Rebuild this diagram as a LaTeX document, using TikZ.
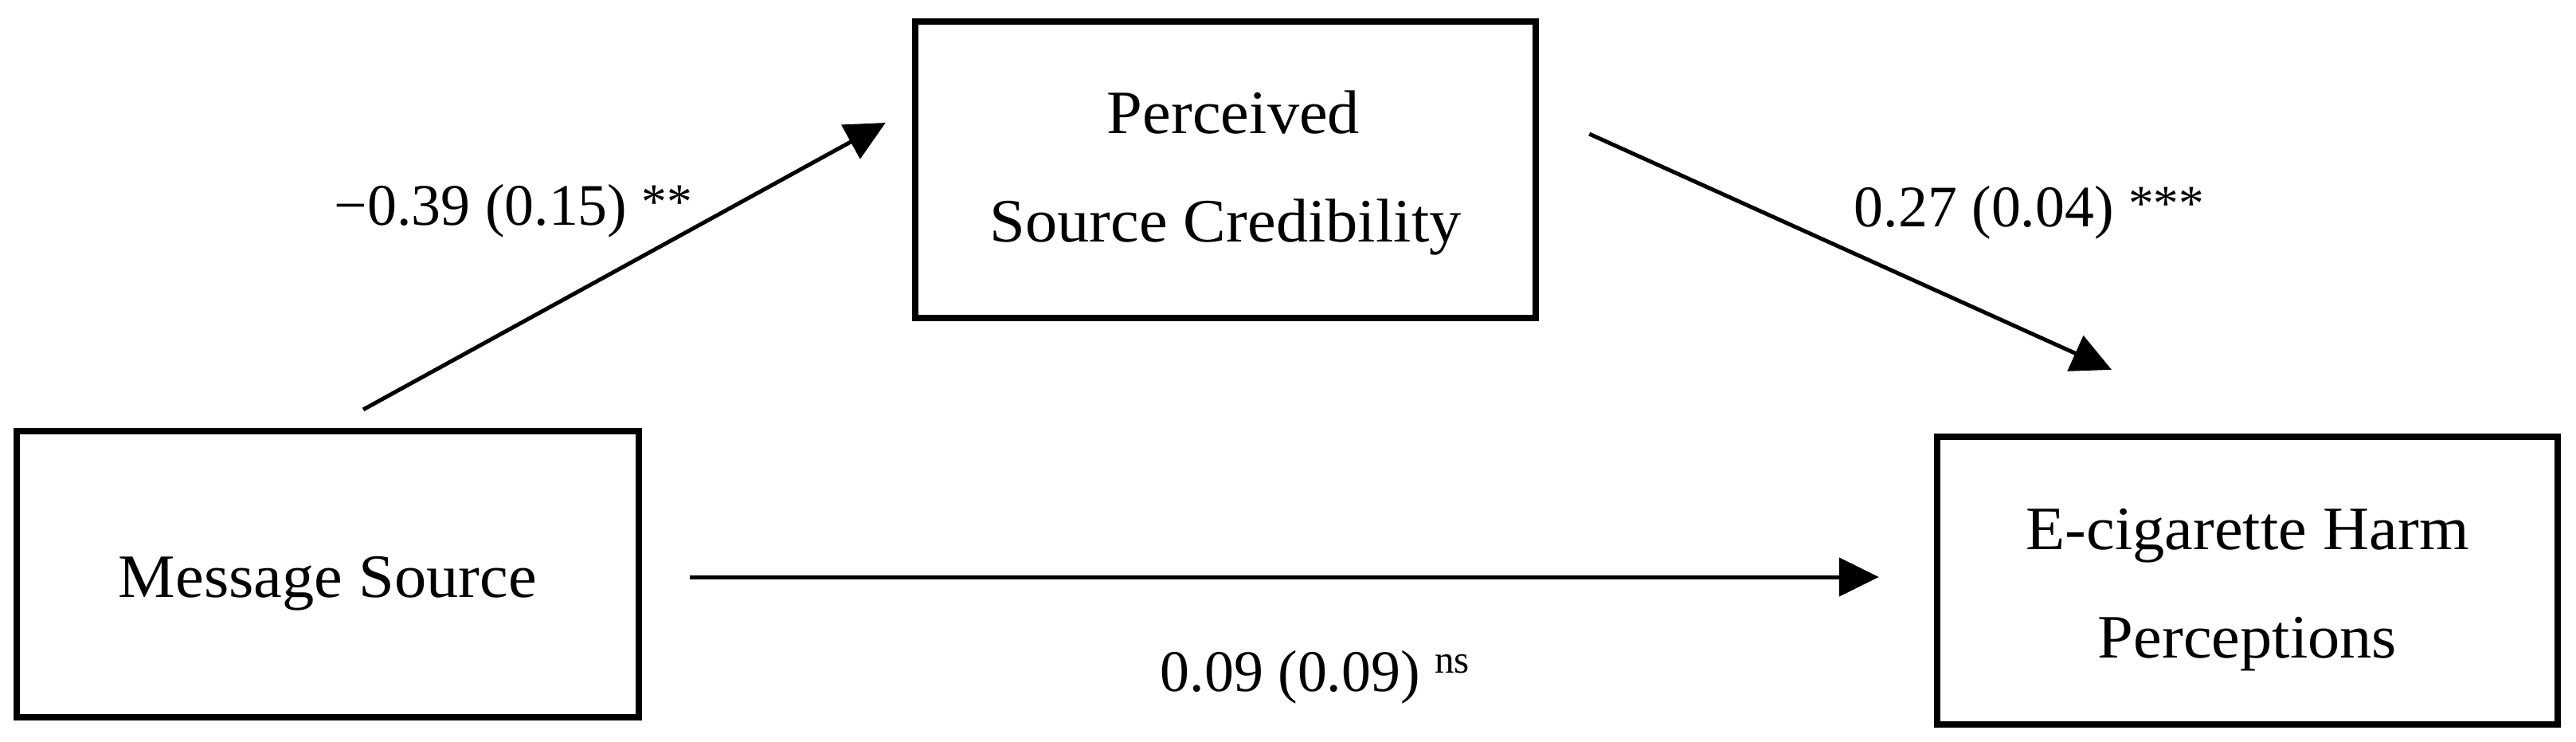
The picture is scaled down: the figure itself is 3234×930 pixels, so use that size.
\documentclass[tikz,border=0pt]{standalone}
\usepackage{fontspec}
\setmainfont{Liberation Serif}
\newfontfamily\boxfont{Liberation Serif}[FakeStretch=1.04]
\usetikzlibrary{arrows.meta,calc}
\newcommand{\mytopstrut}[1][0.75cm]{\rule{0pt}{#1}}
\newcommand{\myast}[1]{\raisebox{2pt}{\fontsize{18}{18}\selectfont #1}}
\begin{document}
\begin{tikzpicture}[x=0.01cm,y=-0.01cm,
  box/.style={draw, line width=0.08cm, align=center, inner sep=0pt,
    font=\boxfont\fontsize{22}{38.7}\selectfont},
  conn/.style={line width=0.05cm, -{Triangle[length=0.5cm,width=0.48cm]}},
  lbl/.style={inner sep=0pt, anchor=base west, font=\fontsize{21}{25}\selectfont}]
\useasboundingbox (0,0) rectangle (3234,930);
\node[box, minimum width=7.81cm, minimum height=3.59cm] (ms) at (411.5,720.5) {\mytopstrut Message Source};
\node[box, minimum width=7.79cm, minimum height=3.72cm] (psc) at (1538.5,213) {\mytopstrut[0.62cm] Perceived\\Source Credibility};
\node[box, minimum width=7.79cm, minimum height=3.61cm] (ehp) at (2821.5,728.5) {\mytopstrut E-cigarette Harm\\Perceptions};
\draw[conn] ($(ms.north)+(44.5,-23)$) -- ($(psc.west)+(-33,-59)$);
\draw[conn] ($(psc.east)+(63,-45)$) -- ($(ehp.north)+(-170.5,-80)$);
\draw[conn] ($(ms.east)+(60,3.5)$) -- ($(ehp.west)+(-69,-4.5)$);
\node[lbl] (l1) at (419,282) {−0.39 (0.15) \myast{**}};
\node[lbl] (l2) at (2327,284) {0.27 (0.04) \myast{***}};
\node[lbl] (l3) at (1456,867) {0.09 (0.09) \raisebox{6.3pt}{\fontsize{14}{14}\selectfont ns}};
\end{tikzpicture}
\end{document}
